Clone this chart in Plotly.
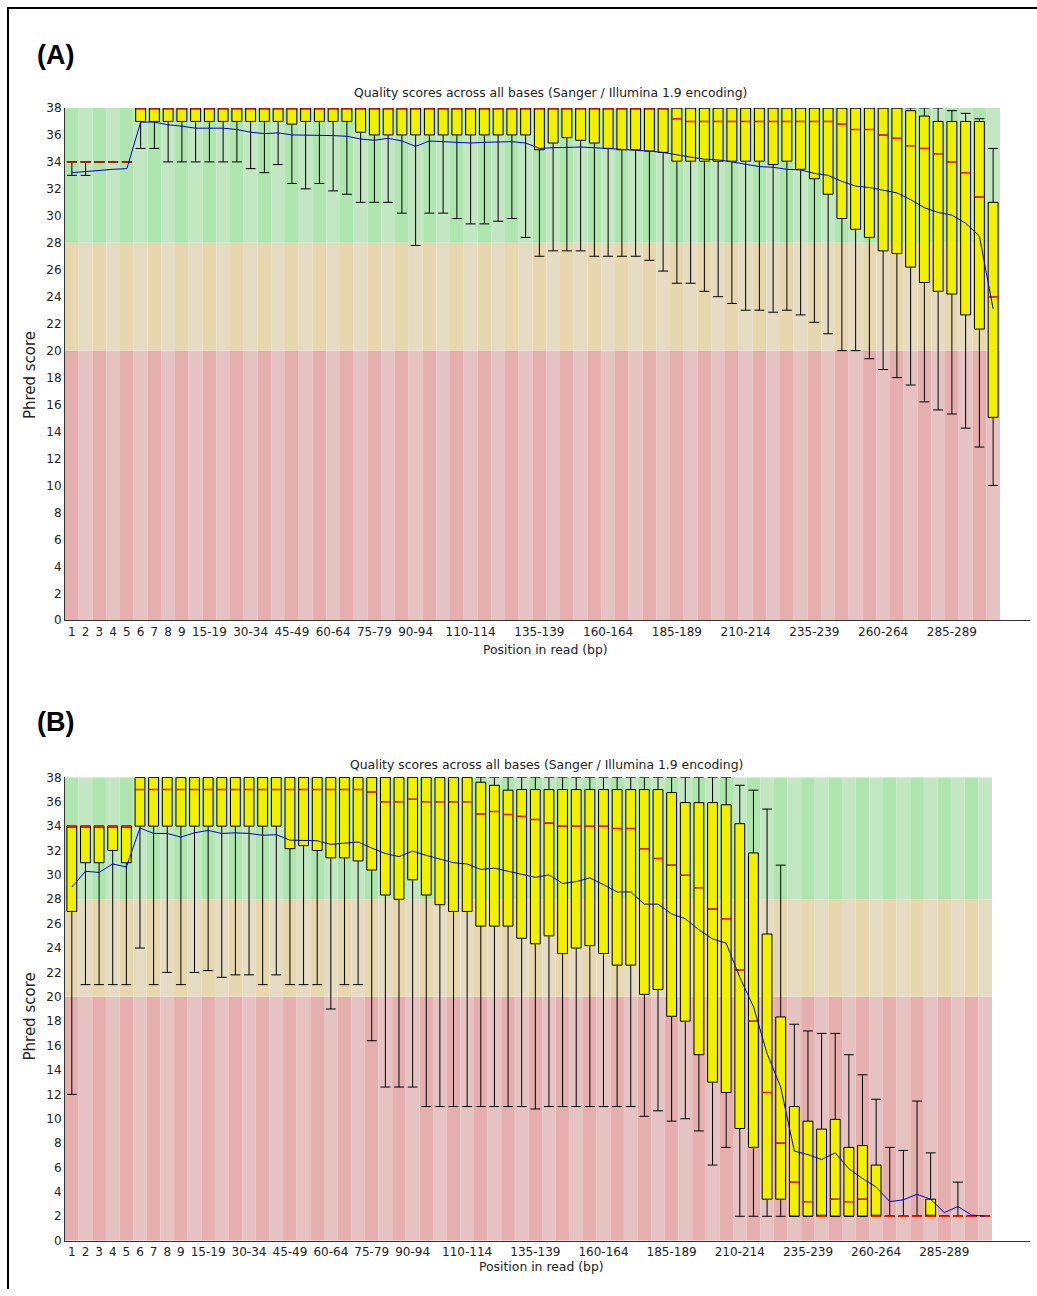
import plotly.graph_objects as go

# ---------------- data ----------------
CATEGORIES = [
    "1", "2", "3", "4", "5", "6", "7", "8", "9",
    "10-14", "15-19", "20-24", "25-29", "30-34", "35-39", "40-44", "45-49",
    "50-54", "55-59", "60-64", "65-69", "70-74", "75-79", "80-84", "85-89",
    "90-94", "95-99", "100-104", "105-109", "110-114", "115-119", "120-124",
    "125-129", "130-134", "135-139", "140-144", "145-149", "150-154", "155-159",
    "160-164", "165-169", "170-174", "175-179", "180-184", "185-189", "190-194",
    "195-199", "200-204", "205-209", "210-214", "215-219", "220-224", "225-229",
    "230-234", "235-239", "240-244", "245-249", "250-254", "255-259", "260-264",
    "265-269", "270-274", "275-279", "280-284", "285-289", "290-294", "295-299",
    "300-301",
]
TICK_LABELS = ["1", "2", "3", "4", "5", "6", "7", "8", "9", "15-19", "30-34",
               "45-49", "60-64", "75-79", "90-94", "110-114", "135-139",
               "160-164", "185-189", "210-214", "235-239", "260-264", "285-289"]

# Panel A : 10th pct, lower quartile, median, upper quartile, 90th pct, mean
A_LOW = [33, 33, 34, 34, 34, 35, 35, 34, 34, 34,
         34, 34, 34, 33.5, 33.2, 33.8, 32.4, 32.0, 32.4, 31.85,
         31.6, 31.0, 31.0, 31.0, 30.2, 27.8, 30.2, 30.2, 29.8, 29.4,
         29.4, 29.6, 29.8, 28.4, 27.0, 27.4, 27.4, 27.4, 27.0, 27.0,
         27.0, 27.0, 26.7, 25.9, 25.0, 25.0, 24.4, 24.0, 23.5, 23.0,
         23.0, 22.85, 23.0, 22.65, 22.1, 21.25, 20.0, 20.0, 19.4, 18.6,
         18.0, 17.45, 16.2, 15.6, 15.3, 14.25, 12.85, 10.0]
A_Q1 = [34, 34, 34, 34, 34, 37, 37, 37, 37, 37,
        37, 37, 37, 37, 37, 37, 36.8, 37, 37, 37,
        37, 36.2, 36, 36, 36, 36, 36, 36, 36, 36,
        36, 36, 36, 36, 34.9, 35.4, 35.8, 35.6, 35.4, 35.0,
        34.9, 34.9, 34.8, 34.7, 34.05, 34.05, 34.05, 34.05, 34.05, 34.05,
        34.05, 33.8, 34.05, 33.45, 32.75, 31.6, 29.8, 29.0, 28.4, 27.4,
        27.2, 26.2, 25.05, 24.4, 24.2, 22.65, 21.6, 15.05]
A_MED = [34, 34, 34, 34, 34, 38, 38, 38, 38, 38,
         38, 38, 38, 38, 38, 38, 38, 38, 38, 38,
         38, 38, 38, 38, 38, 38, 38, 38, 38, 38,
         38, 38, 38, 38, 38, 38, 38, 38, 38, 38,
         38, 38, 38, 38, 37.2, 37, 37, 37, 37, 37,
         37, 37, 37, 37, 37, 37, 36.8, 36.4, 36.4, 36.0,
         35.75, 35.2, 35.0, 34.6, 34.0, 33.2, 31.4, 24.0]
A_Q3 = [34, 34, 34, 34, 34, 38, 38, 38, 38, 38,
        38, 38, 38, 38, 38, 38, 38, 38, 38, 38,
        38, 38, 38, 38, 38, 38, 38, 38, 38, 38,
        38, 38, 38, 38, 38, 38, 38, 38, 38, 38,
        38, 38, 38, 38, 38, 38, 38, 38, 38, 38,
        38, 38, 38, 38, 38, 38, 38, 38, 38, 38,
        38, 37.8, 37.4, 37, 37, 37, 37, 31]
A_HIGH = [34, 34, 34, 34, 34, 38, 38, 38, 38, 38,
          38, 38, 38, 38, 38, 38, 38, 38, 38, 38,
          38, 38, 38, 38, 38, 38, 38, 38, 38, 38,
          38, 38, 38, 38, 38, 38, 38, 38, 38, 38,
          38, 38, 38, 38, 38, 38, 38, 38, 38, 38,
          38, 38, 38, 38, 38, 38, 38, 38, 38, 38,
          38, 38, 38, 38, 37.8, 37.6, 37.2, 35]
A_MEAN = [33.2, 33.3, 33.4, 33.45, 33.5, 36.95, 36.95, 36.75, 36.65, 36.5,
          36.5, 36.5, 36.4, 36.2, 36.1, 36.15, 36.0, 36.0, 36.0, 35.95,
          35.9, 35.7, 35.6, 35.75, 35.55, 35.15, 35.55, 35.5, 35.45, 35.4,
          35.45, 35.5, 35.5, 35.4, 35.0, 35.05, 35.1, 35.1, 35.05, 35.0,
          34.95, 34.9, 34.8, 34.7, 34.5, 34.35, 34.2, 34.15, 34.0, 33.8,
          33.65, 33.6, 33.45, 33.4, 33.15, 33.0, 32.55, 32.2, 32.1, 31.9,
          31.7, 31.2, 30.6, 30.25, 30.05, 29.45, 28.5, 23.1]

# Panel B
B_LOW = [12, 21, 21, 21, 21, 24, 21, 22, 21, 22,
         22.15, 21.6, 21.8, 21.8, 21, 21.8, 21, 21, 21, 19,
         21, 21, 16.4, 12.6, 12.6, 12.6, 11, 11, 11, 11,
         11, 11, 11, 11, 10.8, 11, 11, 11, 11, 11,
         11, 11, 10.2, 10.65, 9.8, 10.0, 9.0, 6.2, 7.65, 2,
         2, 2, 2, 2, 2, 2, 2, 2, 2, 2,
         2, 2, 2, 2, 2, 2, 2, 2]
B_Q1 = [27, 31, 31, 32, 31, 34, 34, 34, 34, 34,
        34, 34, 34, 34, 34, 34, 32.15, 32.4, 32.0, 31.4,
        31.4, 31.15, 30.4, 28.35, 28.0, 29.6, 28.35, 27.55, 27.0, 27.0,
        25.8, 25.8, 25.8, 24.8, 24.35, 25.0, 23.55, 24.0, 24.2, 23.55,
        22.6, 22.6, 20.2, 20.6, 18.4, 18.0, 15.25, 13.0, 12.15, 9.2,
        7.65, 3.4, 3.4, 2, 2, 2, 2, 2, 2, 2,
        2, 2, 2, 2, 2, 2, 2, 2]
B_MED = [34, 34, 34, 34, 34, 37, 37, 37, 37, 37,
         37, 37, 37, 37, 37, 37, 37, 37, 37, 37,
         37, 37, 36.8, 36, 36, 36.2, 36, 36, 36, 36,
         35.0, 35.2, 34.95, 34.8, 34.55, 34.25, 34, 34, 34, 34,
         33.8, 33.8, 32.15, 31.35, 30.8, 29.97, 28.95, 27.2, 26.4, 22.2,
         18.0, 12.15, 8.0, 4.8, 3.2, 2.0, 3.4, 3.2, 3.4, 2,
         2, 2, 2, 2, 2, 2, 2, 2]
B_Q3 = [34, 34, 34, 34, 34, 38, 38, 38, 38, 38,
        38, 38, 38, 38, 38, 38, 38, 38, 38, 38,
        38, 38, 38, 38, 38, 38, 38, 38, 38, 38,
        37.6, 37.35, 36.95, 37, 37, 37, 37, 37, 37, 37,
        37, 37, 37, 37, 36.75, 35.93, 35.93, 35.93, 35.75, 34.2,
        31.8, 25.15, 18.35, 11.0, 9.8, 9.15, 9.95, 7.65, 7.8, 6.2,
        2, 2, 2, 3.4, 2, 2, 2, 2]
B_HIGH = [34, 34, 34, 34, 34, 38, 38, 38, 38, 38,
          38, 38, 38, 38, 38, 38, 38, 38, 38, 38,
          38, 38, 38, 38, 38, 38, 38, 38, 38, 38,
          38, 38, 38, 38, 38, 38, 38, 38, 38, 38,
          38, 38, 38, 38, 38, 38, 38, 38, 38, 37.35,
          36.95, 35.4, 30.8, 17.75, 17.2, 17.0, 17.0, 15.25, 13.6, 11.6,
          7.65, 7.4, 11.45, 7.2, 2, 4.8, 2, 2]
B_MEAN = [29.0, 30.3, 30.2, 30.9, 30.65, 33.85, 33.4, 33.4, 33.1, 33.45,
          33.65, 33.4, 33.45, 33.4, 33.25, 33.3, 32.85, 32.85, 32.8, 32.5,
          32.6, 32.7, 32.2, 31.75, 31.5, 31.95, 31.6, 31.3, 31.0, 30.9,
          30.45, 30.55, 30.3, 30.1, 29.8, 30.0, 29.3, 29.45, 29.75, 29.2,
          28.6, 28.6, 27.6, 27.6, 26.8, 26.4, 25.5, 24.75, 24.4, 21.6,
          19.2, 15.35, 12.6, 7.35, 7.06, 6.65, 7.2, 5.9, 5.1, 4.4,
          3.2, 3.35, 3.8, 3.4, 2.3, 2.8, 2.1, 2.0]

# quality zones: (bottom, top)
ZONE_BOUNDS = [(0, 20), (20, 28), (28, 38)]

# ---------------- style ----------------
W, H = 1037, 1296
FONT = "DejaVu Sans"
ZONE_COLORS = [("rgb(230,175,175)", "rgb(230,195,195)"),
               ("rgb(230,215,175)", "rgb(230,220,195)"),
               ("rgb(175,230,175)", "rgb(195,230,195)")]
BOX_FILL = "rgb(240,240,0)"
MEDIAN_COLOR = "rgb(235,30,0)"
MEAN_COLOR = "rgb(0,0,200)"
BOX_W = 0.72

# vertical placement correction (observed on the photographed page)
Y_OFF, Y_SCALE = 7.1, 0.9886


def px(x):
    return x / W


def py(y):
    return 1 - ((y - Y_OFF) / Y_SCALE) / H


idx = list(range(len(CATEGORIES)))
tickvals = [CATEGORIES.index(t) for t in TICK_LABELS]

fig = go.Figure()


def add_panel(sfx, low, q1, med, q3, high, mean):
    xa, ya = "x" + sfx, "y" + sfx
    for (b, t), (dark, light) in zip(ZONE_BOUNDS, ZONE_COLORS):
        fig.add_trace(go.Bar(
            x=idx, y=[t - b] * len(idx), base=[b] * len(idx), width=1,
            marker=dict(color=[dark if i % 2 == 0 else light for i in idx],
                        line=dict(width=0)),
            xaxis=xa, yaxis=ya, hoverinfo="skip", showlegend=False))
    fig.add_trace(go.Box(
        x=idx, q1=q1, median=med, q3=q3, lowerfence=low, upperfence=high,
        width=BOX_W, whiskerwidth=1, fillcolor=BOX_FILL,
        line=dict(color="black", width=1), boxpoints=False,
        xaxis=xa, yaxis=ya, hoverinfo="skip", showlegend=False))
    mx, my = [], []
    for i, m in zip(idx, med):
        mx += [i - BOX_W / 2, i + BOX_W / 2, None]
        my += [m, m, None]
    fig.add_trace(go.Scatter(
        x=mx, y=my, mode="lines", line=dict(color=MEDIAN_COLOR, width=1.5),
        xaxis=xa, yaxis=ya, hoverinfo="skip", showlegend=False))
    fig.add_trace(go.Scatter(
        x=idx, y=mean, mode="lines", line=dict(color=MEAN_COLOR, width=1),
        xaxis=xa, yaxis=ya, hoverinfo="skip", showlegend=False))


add_panel("", A_LOW, A_Q1, A_MED, A_Q3, A_HIGH, A_MEAN)
add_panel("2", B_LOW, B_Q1, B_MED, B_Q3, B_HIGH, B_MEAN)

tickfont = dict(family=FONT, size=12, color="#222")
xcommon = dict(tickmode="array", tickvals=tickvals, ticktext=TICK_LABELS,
               showline=True, linecolor="#333", linewidth=1, ticks="",
               showgrid=False, zeroline=False, tickfont=tickfont,
               domain=[px(65), px(1030)])
ycommon = dict(range=[0, 38], tick0=0, dtick=2, showline=True,
               linecolor="#333", linewidth=1, ticks="", showgrid=False,
               zeroline=False, tickfont=tickfont)

n = len(CATEGORIES)
wa = (1000 - 65) / n
wb = (992 - 65) / n
fig.update_layout(
    width=W, height=H, margin=dict(l=0, r=0, t=0, b=0),
    paper_bgcolor="white", plot_bgcolor="white",
    barmode="overlay", boxmode="overlay", showlegend=False,
    xaxis=dict(**xcommon, anchor="y", range=[-0.5, -0.5 + (1030 - 65) / wa]),
    yaxis=dict(**ycommon, anchor="x", domain=[py(620), py(108)]),
    xaxis2=dict(**xcommon, anchor="y2", range=[-0.5, -0.5 + (1030 - 65) / wb]),
    yaxis2=dict(**ycommon, anchor="x2", domain=[py(1240), py(777)]),
)

TITLE = "Quality scores across all bases (Sanger / Illumina 1.9 encoding)"
txt = dict(family=FONT, size=12.4, color="#222")
ann = [
    dict(text="<b>(A)</b>", x=px(35), y=py(55), xanchor="left", yanchor="middle",
         font=dict(family="Liberation Sans", size=27, color="black")),
    dict(text="<b>(B)</b>", x=px(35), y=py(722), xanchor="left", yanchor="middle",
         font=dict(family="Liberation Sans", size=27, color="black")),
    dict(text=TITLE, x=px(550), y=py(93), xanchor="center", yanchor="middle", font=txt),
    dict(text=TITLE, x=px(546), y=py(764), xanchor="center", yanchor="middle", font=txt),
    dict(text="Position in read (bp)", x=px(545), y=py(649), xanchor="center",
         yanchor="middle", font=txt),
    dict(text="Position in read (bp)", x=px(541), y=py(1266), xanchor="center",
         yanchor="middle", font=txt),
    dict(text="Phred score", x=px(30), y=py(375), xanchor="center", yanchor="middle",
         textangle=-90, font=dict(family=FONT, size=15, color="#222")),
    dict(text="Phred score", x=px(30), y=py(1016), xanchor="center", yanchor="middle",
         textangle=-90, font=dict(family=FONT, size=15, color="#222")),
]
for a in ann:
    a.update(xref="paper", yref="paper", showarrow=False)
fig.update_layout(annotations=ann)

fig.update_layout(shapes=[
    dict(type="line", xref="paper", yref="paper", x0=px(7), x1=1, y0=py(8), y1=py(8),
         line=dict(color="black", width=2)),
    dict(type="line", xref="paper", yref="paper", x0=px(8), x1=px(8), y0=py(7), y1=0,
         line=dict(color="black", width=2)),
])

# the page body otherwise keeps an 8px default margin around the figure
fig.write_html(
    "out.html",
    config={"displayModeBar": False},
    post_script="document.body.style.margin='0';document.body.style.overflow='hidden';",
)
